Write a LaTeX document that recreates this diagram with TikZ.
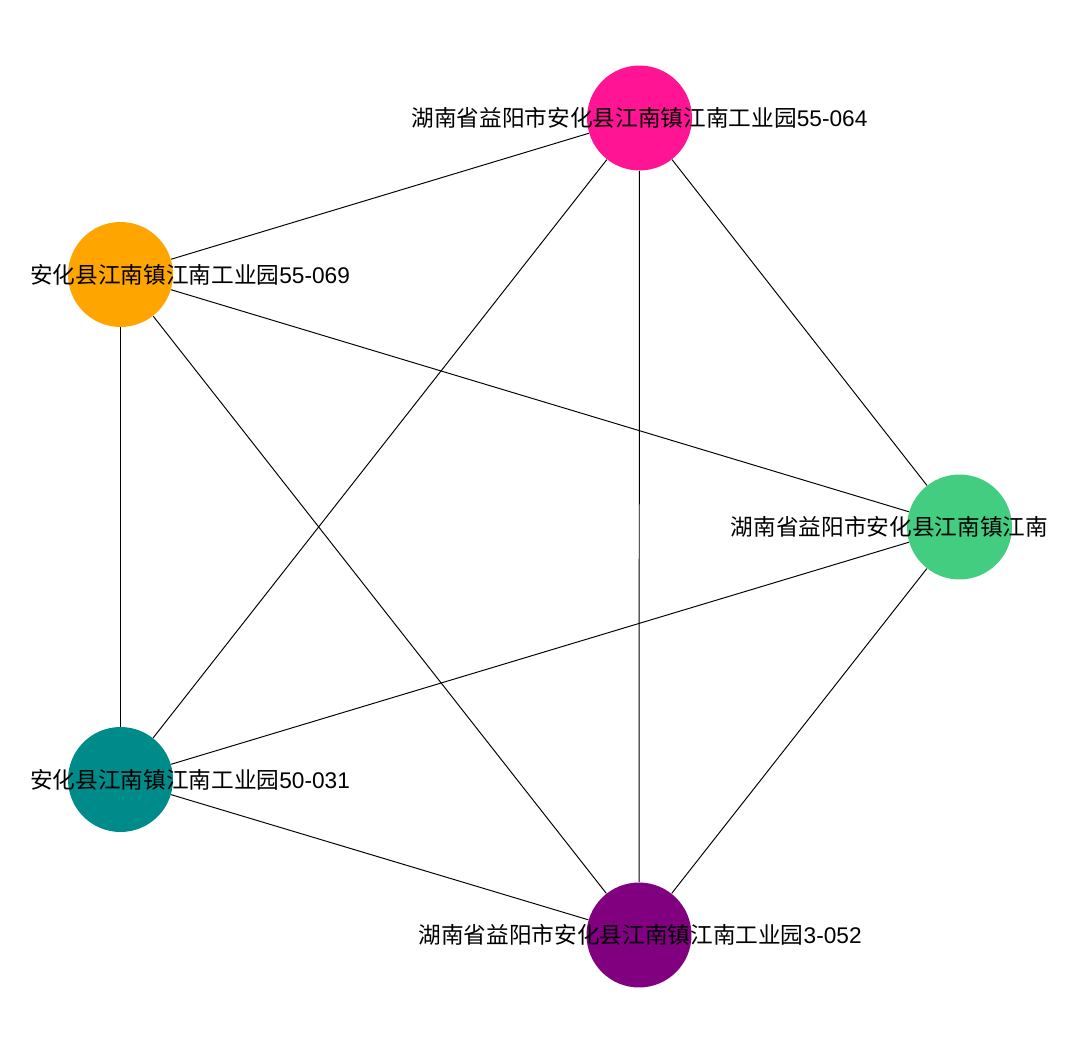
\documentclass[tikz,border=0pt]{standalone}
\usepackage{fontspec}
\setmainfont{Liberation Sans}
\newfontfamily\cjk{Noto Sans CJK SC}
\usepackage{xcolor}
\usepackage{tikz}
\usetikzlibrary{backgrounds}
\definecolor{mypink}{HTML}{FF1493}
\definecolor{myorange}{HTML}{FFA500}
\definecolor{mygreen}{HTML}{43CD80}
\definecolor{myteal}{HTML}{008B8B}
\definecolor{mypurple}{HTML}{800080}
\tikzstyle{site} = [circle, minimum size=2.1cm, inner sep=0pt, draw=none]
\tikzstyle{link} = [line width=0.55pt, black]

\begin{document}
\begin{tikzpicture}[x=0.02cm, y=-0.02cm, addr/.style={inner sep=0pt, font=\fontsize{12.9pt}{14pt}\selectfont}]
    \useasboundingbox (0,0) rectangle (1080,1054);
    \node[site, fill=mypink] (p1) at (639.5,118) {};
    \node[site, fill=myorange] (p2) at (120.5,274.5) {};
    \node[site, fill=mygreen] (p3) at (959.5,527) {};
    \node[site, fill=myteal] (p4) at (120.5,779.5) {};
    \node[site, fill=mypurple] (p5) at (639,935) {};
    \node[addr] (t1) at (639.5,118) {{\cjk 湖南省益阳市安化县江南镇江南工业园}55-064};
    \node[addr] (t2) at (190,274.5) {{\cjk 安化县江南镇江南工业园}55-069};
    \node[addr] (t3) at (889.5,527) {{\cjk 湖南省益阳市安化县江南镇江南}};
    \node[addr] (t4) at (190,779.5) {{\cjk 安化县江南镇江南工业园}50-031};
    \node[addr] (t5) at (640,935) {{\cjk 湖南省益阳市安化县江南镇江南工业园}3-052};
    \begin{scope}[on background layer]
    \draw[link] (p1) -- (p2);
    \draw[link] (p1) -- (p3);
    \draw[link] (p1) -- (p4);
    \draw[link] (p1) -- (p5);
    \draw[link] (p2) -- (p3);
    \draw[link] (p2) -- (p4);
    \draw[link] (p2) -- (p5);
    \draw[link] (p3) -- (p4);
    \draw[link] (p3) -- (p5);
    \draw[link] (p4) -- (p5);
    \end{scope}
\end{tikzpicture}
\end{document}
